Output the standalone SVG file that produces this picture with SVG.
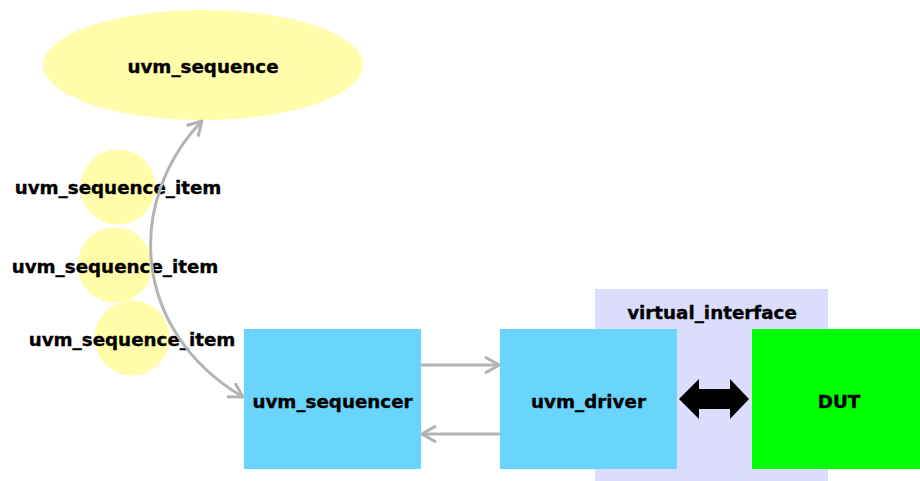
<svg xmlns="http://www.w3.org/2000/svg" width="920" height="481" viewBox="0 0 920 481">
  <defs>
    <style>
      .lbl { font-family: "DejaVu Sans", Verdana, sans-serif; font-weight: bold; font-size: 18.3px; fill: #000; stroke: #000; stroke-width: 0.35px; text-anchor: middle; }
      .seq { fill: #FFFCAA; }
      .blk { fill: #69D5FC; }
      .link { fill: none; stroke: #B3B3B3; stroke-width: 3; }
    </style>
    <marker id="chev" viewBox="0 0 16 18" refX="15" refY="9" markerWidth="16" markerHeight="18" markerUnits="userSpaceOnUse" orient="auto-start-reverse">
      <path d="M1,1 L15,9 L1,17" fill="none" stroke="#B3B3B3" stroke-width="3"/>
    </marker>
  </defs>

  <!-- interface region behind driver and DUT -->
  <g id="virtual_interface">
    <rect x="595" y="289" width="233" height="192" fill="#DCDCFC"/>
    <text class="lbl" x="712" y="319">virtual_interface</text>
  </g>

  <g id="uvm_sequence">
    <ellipse class="seq" cx="203" cy="65" rx="160" ry="55"/>
    <text class="lbl" x="203" y="73">uvm_sequence</text>
  </g>

  <g id="item1">
    <circle class="seq" cx="118" cy="187" r="37.5"/>
    <text class="lbl" x="118" y="194">uvm_sequence_item</text>
  </g>
  <g id="item2">
    <circle class="seq" cx="115" cy="265" r="37.5"/>
    <text class="lbl" x="115" y="273">uvm_sequence_item</text>
  </g>
  <g id="item3">
    <circle class="seq" cx="132" cy="338" r="37.5"/>
    <text class="lbl" x="132" y="346">uvm_sequence_item</text>
  </g>

  <g id="uvm_sequencer">
    <rect class="blk" x="244" y="329" width="177" height="140"/>
    <text class="lbl" x="332.5" y="408">uvm_sequencer</text>
  </g>

  <g id="uvm_driver">
    <rect class="blk" x="500" y="329" width="177" height="140"/>
    <text class="lbl" x="588.5" y="408">uvm_driver</text>
  </g>

  <g id="DUT">
    <rect x="752" y="329" width="168" height="140" fill="#00FF00"/>
    <text class="lbl" x="839" y="408">DUT</text>
  </g>

  <g id="connectors">
    <path class="link" d="M243,397 C130,330 126,200 202,121" marker-start="url(#chev)" marker-end="url(#chev)"/>
    <line class="link" x1="421" y1="365" x2="499" y2="365" marker-end="url(#chev)"/>
    <line class="link" x1="500" y1="434" x2="422" y2="434" marker-end="url(#chev)"/>
    <!-- bidirectional bus between driver and DUT -->
    <polygon points="679,399 699,379 699,389 730,389 730,379 749,399 730,419 730,409 699,409 699,419" fill="#000"/>
  </g>
</svg>
